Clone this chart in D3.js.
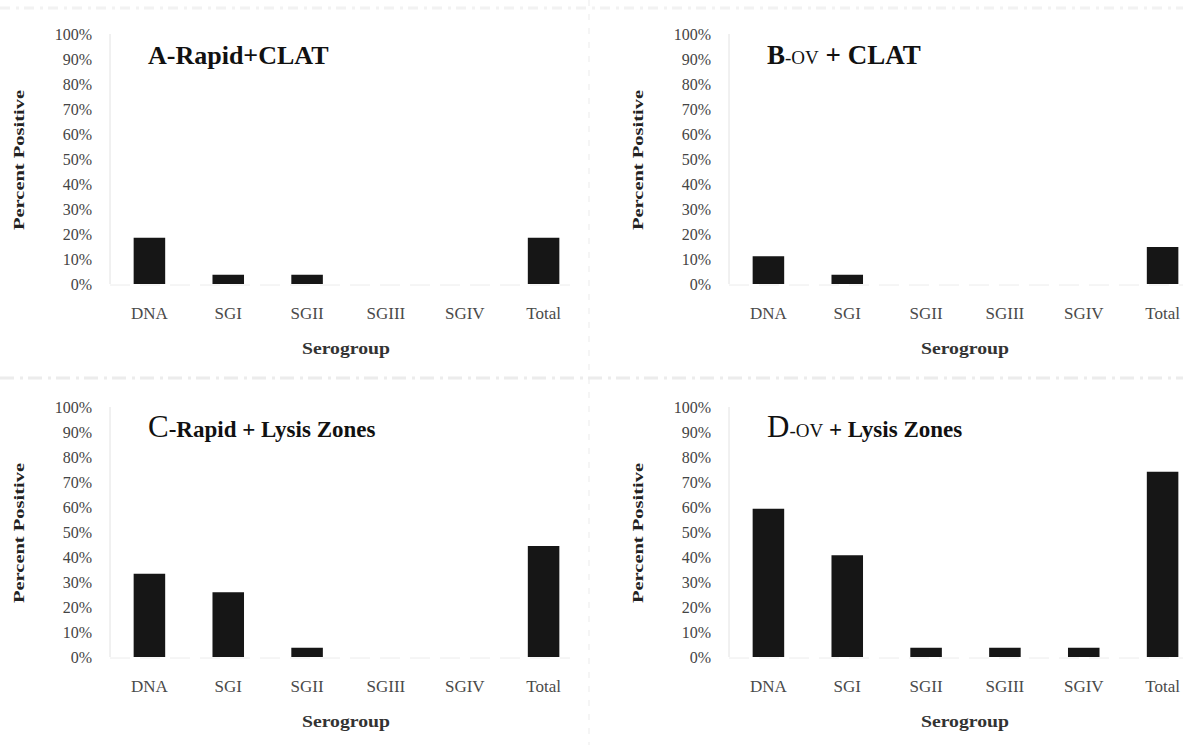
<!DOCTYPE html>
<html>
<head>
<meta charset="utf-8">
<script src="https://cdnjs.cloudflare.com/ajax/libs/d3/7.8.5/d3.min.js"></script>
<style>
  body { margin: 0; background: #fff; }
  svg { display: block; font-family: "Liberation Serif", "DejaVu Serif", serif; }
</style>
</head>
<body>
<div class="chart"></div>
<script>
// serogroup categories shared by all four panels
var categories = ["DNA", "SGI", "SGII", "SGIII", "SGIV", "Total"];

// percent positive per panel
var rapidClat = [18.5, 3.7, 3.7, 0, 0, 18.5];
var ovClat = [11.1, 3.7, 0, 0, 0, 14.8];
var rapidLysis = [33.3, 25.9, 3.7, 0, 0, 44.4];
var ovLysis = [59.3, 40.7, 3.7, 3.7, 3.7, 74.1];

var yTicks = [0, 10, 20, 30, 40, 50, 60, 70, 80, 90, 100];

var width = 1183,
    height = 745;

var svg = d3.select(".chart").append("svg")
    .attr("width", width)
    .attr("height", height);

// faint scan seams between the panels
svg.append("line")
    .attr("x1", 0).attr("x2", width)
    .attr("y1", 378).attr("y2", 378)
    .attr("stroke", "#ececec")
    .attr("stroke-width", 3)
    .attr("stroke-dasharray", "14,6,3,5");
svg.append("line")
    .attr("x1", 0).attr("x2", width)
    .attr("y1", 8).attr("y2", 8)
    .attr("stroke", "#f2f2f2")
    .attr("stroke-width", 3)
    .attr("stroke-dasharray", "10,6,3,5");
svg.append("line")
    .attr("x1", 589).attr("x2", 589)
    .attr("y1", 0).attr("y2", height)
    .attr("stroke", "#ebebeb")
    .attr("stroke-width", 1)
    .attr("stroke-dasharray", "6,8");

var panels = [
    {values: rapidClat, x0: 110, top: 34, bottom: 284,
        title: [["A-Rapid+CLAT", 26, "bold"]]},
    {values: ovClat, x0: 729, top: 34, bottom: 284,
        title: [["B", 27, "bold"], ["-OV", 19, "normal"], [" + CLAT", 27, "bold"]]},
    {values: rapidLysis, x0: 110, top: 407, bottom: 657,
        title: [["C", 31, "normal"], ["-Rapid + Lysis Zones", 23, "bold"]]},
    {values: ovLysis, x0: 729, top: 407, bottom: 657,
        title: [["D", 31, "normal"], ["-OV", 19, "normal"], [" + Lysis Zones", 23, "bold"]]}
];

panels.forEach(function (p) {

    var x = d3.scaleBand()
        .domain(categories)
        .range([p.x0, p.x0 + 473])
        .paddingInner(0.6)
        .paddingOuter(0.3);

    var y = d3.scaleLinear()
        .domain([0, 100])
        .range([p.bottom, p.top]);

    var g = svg.append("g");

    // faint axis line and baseline
    g.append("line")
        .attr("x1", p.x0).attr("x2", p.x0)
        .attr("y1", y(100)).attr("y2", y(0))
        .attr("stroke", "#e2e2e2");
    g.append("line")
        .attr("x1", p.x0).attr("x2", p.x0 + 460)
        .attr("y1", y(0) + 1).attr("y2", y(0) + 1)
        .attr("stroke", "#ececec")
        .attr("stroke-dasharray", "20,10");

    // y axis
    var yAxis = g.append("g")
        .attr("transform", "translate(" + p.x0 + ",0)")
        .call(d3.axisLeft(y)
            .tickValues(yTicks)
            .tickSize(0)
            .tickPadding(18)
            .tickFormat(function (d) { return d + "%"; }));
    yAxis.select(".domain").remove();
    yAxis.selectAll("text")
        .style("font-family", "Liberation Serif")
        .style("font-size", "16px")
        .attr("fill", "#444");

    // x axis
    var xAxis = g.append("g")
        .attr("transform", "translate(0," + p.bottom + ")")
        .call(d3.axisBottom(x).tickSize(0).tickPadding(23));
    xAxis.select(".domain").remove();
    xAxis.selectAll("text")
        .style("font-family", "Liberation Serif")
        .style("font-size", "17px")
        .attr("fill", "#4a4a4a");

    // bars
    g.selectAll(".bar")
        .data(p.values)
        .enter()
        .append("rect")
        .attr("class", "bar")
        .attr("x", function (d, i) { return x(categories[i]); })
        .attr("width", x.bandwidth())
        .attr("y", function (d) { return y(d); })
        .attr("height", function (d) { return y(0) - y(d); })
        .attr("fill", "#161616");

    // panel title
    var t = g.append("text")
        .attr("x", p.x0 + 38)
        .attr("y", p.top + 30)
        .attr("fill", "#111");
    p.title.forEach(function (part) {
        t.append("tspan")
            .style("font-size", part[1] + "px")
            .style("font-weight", part[2])
            .text(part[0]);
    });

    // axis titles
    g.append("text")
        .attr("transform", "translate(" + (p.x0 - 86) + "," + ((p.top + p.bottom) / 2 + 1) + ") rotate(-90)")
        .attr("text-anchor", "middle")
        .attr("textLength", 140)
        .attr("lengthAdjust", "spacingAndGlyphs")
        .style("font-size", "15px")
        .style("font-weight", "bold")
        .attr("fill", "#222")
        .text("Percent Positive");

    g.append("text")
        .attr("x", p.x0 + 236)
        .attr("y", p.bottom + 70)
        .attr("text-anchor", "middle")
        .attr("textLength", 88)
        .attr("lengthAdjust", "spacingAndGlyphs")
        .style("font-size", "17px")
        .style("font-weight", "bold")
        .attr("fill", "#333")
        .text("Serogroup");
});
</script>
</body>
</html>
